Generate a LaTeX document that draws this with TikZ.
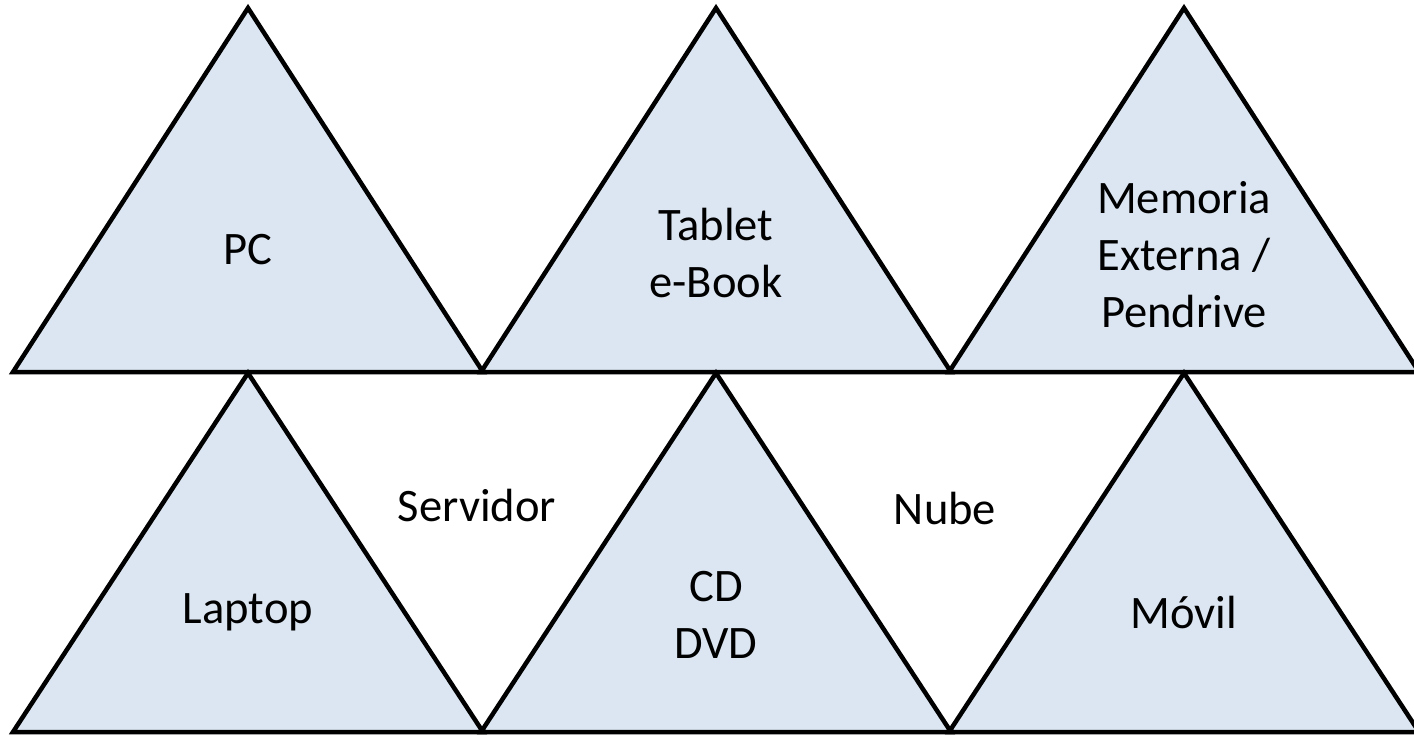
\documentclass[tikz,border=0pt]{standalone}
\usepackage{fontspec}
\setmainfont{Carlito}
\definecolor{trifill}{RGB}{220,230,242}

\begin{document}
\begin{tikzpicture}[
  x=0.02cm, y=-0.02cm,
  tri/.style={draw=black, fill=trifill, line width=0.09cm, line join=miter},
  lbl/.style={align=center, font=\fontsize{26.5}{32.5}\selectfont, inner sep=0pt}
]
\useasboundingbox (0,0) rectangle (1414,735);
% upper row
\foreach \cx in {248,716,1184}
  \draw[tri] (\cx,8) -- (\cx+235,372) -- (\cx-235,372) -- cycle;
% lower row
\foreach \cx in {248,716,1184}
  \draw[tri] (\cx,373) -- (\cx+235,732) -- (\cx-235,732) -- cycle;

\node[lbl] (pc) at (248,250) {PC};
\node[lbl] (tablet) at (716,253) {Tablet\\e-Book};
\node[lbl] (memoria) at (1184,255) {Memoria\\Externa /\\Pendrive};
\node[lbl] (laptop) at (248,612) {Laptop};
\node[lbl] (servidor) at (477,505) {Servidor};
\node[lbl] (cddvd) at (716,615) {CD\\DVD};
\node[lbl] (nube) at (945,508) {Nube};
\node[lbl] (movil) at (1184,612) {Móvil};
\end{tikzpicture}
\end{document}
